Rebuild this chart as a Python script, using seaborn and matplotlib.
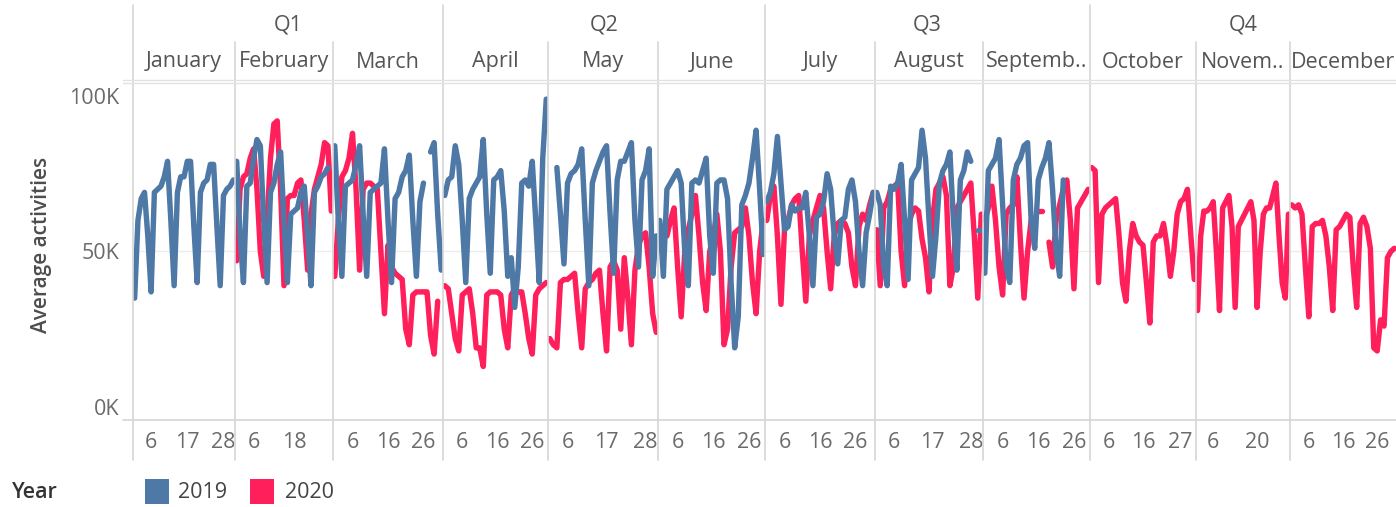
import pandas as pd
import matplotlib
matplotlib.use("Agg")
import matplotlib.pyplot as plt
import seaborn as sns
from matplotlib.lines import Line2D
from matplotlib.patches import Rectangle

# ---- DATA (average activities, thousands, one value per day; None = no data) ----
month_names = ["January", "February", "March", "April", "May", "June",
               "July", "August", "Septemb..", "October", "Novem..", "December"]
quarter_names = ["Q1", "Q2", "Q3", "Q4"]
days_in_pane = [31, 29, 31, 30, 31, 30, 31, 31, 30, 31, 30, 31]
day_ticks = [[6, 17, 28], [6, 18], [6, 16, 26], [6, 16, 26], [6, 17, 28], [6, 16, 26],
             [6, 16, 26], [6, 17, 28], [6, 16, 26], [6, 16, 27], [6, 20], [6, 16, 26]]
years = ["2019", "2020"]

jan_2019 = [35, 60, 67, 69, 55, 37, 69, 70, 71, 74, 79, 60, 39, 69, 74, 74, 79, 79, 58, 40,
            69, 72, 73, 78, 78, 58, 39, 68, 70, 71, 73]
feb_2019 = [79, 55, 40, 71, 72, 80, 86, 84, 60, 40, 69, 72, 78, 82, 60, 40, 62, 63, 64, 69,
            71, 55, 39, 69, 71, 74, 75, 77]
mar_2019 = [84, 60, 42, 71, 72, 73, 78, 84, 62, 42, 69, 70, 71, 72, 83, 60, 40, 67, 69, 74,
            76, 81, 60, 42, 66, 72, None, 82, 85, 62, 44]
apr_2019 = [68, 73, 74, 84, 78, 60, 40, 67, 70, 72, 74, 86, 62, 43, 73, 74, 76, 63, 42, 48,
            32, 45, 72, 73, 71, 79, 60, 40, 80, 99]
may_2019 = [None, None, 77, 62, 46, 72, 75, 76, 78, 83, 60, 39, 72, 76, 79, 82, 84, 62, 43, 73,
            79, 79, 82, 85, 60, 45, 73, 76, 83, 42, 55]
jun_2019 = [60, 42, 70, 72, 74, 76, 72, 50, 39, 72, 73, 72, 76, 80, 55, 43, 72, 73, 73, 67,
            40, 19, 29, 65, 68, 72, 80, 89, 70, 49]
jul_2019 = [66, 69, 75, 87, 72, 57, 58, 65, 63, 64, 64, 69, 55, 39, 61, 62, 66, 75, 70, 55,
            46, 60, 61, 70, 73, 66, 50, 39, 56, 62, 69]
aug_2019 = [69, 65, 45, 39, 71, 70, 72, 78, 60, 41, 73, 75, 77, 89, 80, 60, 42, 55, 72, 76,
            78, 82, 60, 44, 73, 76, 82, 79, None, 57, 57]
sep_2019 = [43, 76, 78, 80, 86, 65, 45, 40, 73, 78, 80, 84, 85, 60, 51, 73, 77, 80, 85, 70,
            50, 42, 73]
oct_2019 = []
nov_2019 = []
dec_2019 = []

jan_2020 = []
feb_2020 = [47, 70, 74, 75, 80, 83, 70, 50, 42, 60, 80, 91, 92, 70, 39, 67, 68, 68, 72, 73,
            60, 44, 62, 70, 74, 78, 85, 84, 63]
mar_2020 = [42, 60, 74, 76, 80, 88, 70, 44, 70, 72, 72, 71, 70, 50, 30, 52, 45, 43, 42, 41,
            25, 20, 36, 37, 37, 37, 37, 23, 17, 34]
apr_2020 = [39, 38, 30, 22, 18, 36, 37, 38, 30, 19, 19, 13, 36, 37, 37, 37, 36, 25, 19, 36,
            38, 37, 37, 30, 22, 17, 36, 38, 39, 40]
may_2020 = [22, 20, 19, 40, 41, 41, 42, 43, 30, 19, 38, 40, 41, 43, 44, 30, 18, 45, 47, 44,
            25, 48, 35, 20, 44, 52, 55, 56, 45, 30, 24]
jun_2020 = [56, 56, 55, 60, 64, 45, 29, 50, 57, 62, 68, 55, 40, 31, 50, 55, 62, 50, 20, 25,
            45, 56, 57, 58, 64, 55, 40, 30, 50, 60]
jul_2020 = [60, 68, 71, 55, 33, 57, 60, 65, 67, 68, 50, 34, 55, 60, 64, 68, 64, 50, 38, 55,
            59, 60, 59, 56, 45, 39, 58, 62, 60, 65, 69]
aug_2020 = [57, 39, 64, 66, 70, 71, 72, 50, 39, 58, 62, 64, 63, 54, 48, 37, 60, 70, 72, 74,
            68, 39, 45, 64, 66, 68, 70, 72, 55, 35, 62]
sep_2020 = [60, 64, 71, 60, 45, 36, 62, 64, 65, 74, 53, 35, 50, 60, None, 63, 63, None, 53, 45,
            60, 65, 70, 73, 60, 38, 64, 66, 68, 70]
oct_2020 = [77, 76, 40, 62, 64, 65, 66, 67, 55, 40, 34, 50, 59, 55, 53, 52, 40, 27, 53, 55,
            55, 59, 52, 42, 50, 62, 66, 67, 70, 55, 41]
nov_2020 = [31, 55, 63, 63, 64, 66, 50, 31, 64, 66, 68, 58, 32, 58, 60, 62, 64, 66, 60, 32,
            50, 62, 64, 64, 68, 72, 55, 40, 35, 62]
dec_2020 = [65, 64, 65, 62, 45, 29, 58, 59, 59, 60, 55, 45, 31, 57, 58, 60, 62, 61, 45, 32,
            59, 61, 58, 51, 19, 18, 28, 26, 48, 50, 51]

series_2019 = [jan_2019, feb_2019, mar_2019, apr_2019, may_2019, jun_2019,
               jul_2019, aug_2019, sep_2019, oct_2019, nov_2019, dec_2019]
series_2020 = [jan_2020, feb_2020, mar_2020, apr_2020, may_2020, jun_2020,
               jul_2020, aug_2020, sep_2020, oct_2020, nov_2020, dec_2020]

# ---- TABLE ----
rows = []
for m in range(12):
    for year, vals in zip(years, (series_2019[m], series_2020[m])):
        for d, v in enumerate(vals, start=1):
            rows.append({"month": m, "day": d, "year": year, "value": v})
df = pd.DataFrame(rows)
df["value"] = df["value"].astype(float)
# break the line where a day is missing
df["seg"] = df.groupby(["month", "year"])["value"].transform(lambda s: s.isna().cumsum())
df = df.dropna(subset=["value"])

# ---- LAYOUT (pixels of the 1396x507 picture) ----
W, H = 1396, 507
pane_edges = [133, 235, 333, 443, 548, 658, 765, 875, 983, 1090, 1196, 1290, 1396]
top_px, bottom_px = 82, 420
colors = {"2019": "#4E79A7", "2020": "#FF1F5B"}
grid_col = "#d6d6d6"
text_col = "#555555"
tick_col = "#6b6b6b"
fs = 15.5

sns.set_theme(style="white")
plt.rcParams["font.family"] = ["Open Sans", "DejaVu Sans"]

fig = plt.figure(figsize=(W / 100, H / 100), dpi=100)


def fx(px):
    return px / W


def fy(py):
    return 1 - py / H


tick_y = -(442 - bottom_px) / (bottom_px - top_px)

for m in range(12):
    x0, x1 = pane_edges[m], pane_edges[m + 1]
    ax = fig.add_axes([fx(x0), fy(bottom_px), (x1 - x0) / W, (bottom_px - top_px) / H])
    ax.axhline(50, color="#ececec", lw=1, zorder=0)
    sub = df[df["month"] == m]
    if len(sub):
        sns.lineplot(data=sub, x="day", y="value", hue="year", units="seg", estimator=None,
                     hue_order=["2020", "2019"], palette=colors, legend=False, ax=ax,
                     lw=3.9, solid_capstyle="round", solid_joinstyle="round", sort=True)
    ax.set_xlim(0.5, days_in_pane[m] + 0.5)
    ax.set_ylim(-4.2, 104.5)
    ax.set_xlabel("")
    ax.set_ylabel("")
    ax.set_xticks([])
    for s in ax.spines.values():
        s.set_visible(False)
    ax.patch.set_alpha(0)
    if m == 0:
        ax.set_yticks([0, 50, 100], labels=["0K", "50K", "100K"])
        ax.tick_params(axis="y", length=0, pad=10, labelsize=fs, labelcolor=tick_col)
    else:
        ax.set_yticks([])
    for d in day_ticks[m]:
        ax.text(d, tick_y, str(d), transform=ax.get_xaxis_transform(), ha="center",
                va="center", fontsize=fs, color=tick_col, clip_on=False)
    fig.text(fx((x0 + x1) / 2), fy(62), month_names[m], ha="center", va="center",
             fontsize=fs, color=text_col)

# quarter headers
for q in range(4):
    xa, xb = pane_edges[3 * q], pane_edges[min(3 * q + 3, 12)]
    fig.text(fx((xa + xb) / 2), fy(25), quarter_names[q], ha="center", va="center",
             fontsize=fs, color=text_col)

# header / footer rules
for i, x in enumerate(pane_edges[:-1]):
    y_start = 5 if i % 3 == 0 else 42
    fig.add_artist(Line2D([fx(x), fx(x)], [fy(y_start), fy(460)], color=grid_col, lw=1.2))
for y in (80, 83):
    fig.add_artist(Line2D([fx(123), 1], [fy(y), fy(y)], color="#e2e2e2", lw=1))
fig.add_artist(Line2D([fx(123), 1], [fy(420), fy(420)], color=grid_col, lw=1.2))

# axis title
fig.text(fx(42), fy(245), "Average activities", rotation=90, ha="center", va="center",
         fontsize=15, color="#4d4d4d", fontweight="semibold")

# legend
fig.text(fx(12), fy(492), "Year", ha="left", va="center", fontsize=fs,
         color="#333333", fontweight="semibold")
for year, sq_x, txt_x in (("2019", 145, 178), ("2020", 250, 285)):
    fig.add_artist(Rectangle((fx(sq_x), fy(504)), 24 / W, 25 / H, transform=fig.transFigure,
                             facecolor=colors[year], edgecolor="none"))
    fig.text(fx(txt_x), fy(492), year, ha="left", va="center", fontsize=fs, color="#444444")

fig.savefig("out.png", dpi=100)
